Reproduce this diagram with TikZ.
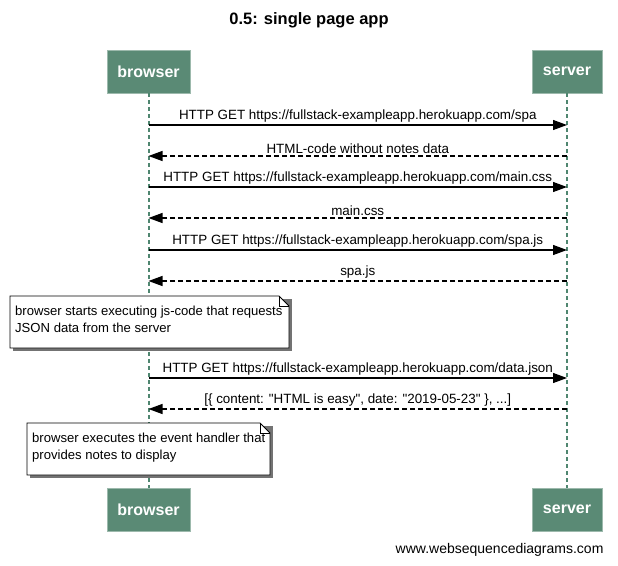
\documentclass[tikz,border=0pt]{standalone}
\usepackage{fontspec}
\setmainfont{Liberation Sans}[Ligatures=TeXOff]
\usetikzlibrary{arrows.meta,positioning,calc}
\definecolor{partc}{HTML}{5A8A75}
\definecolor{lifec}{HTML}{4F8670}

\begin{document}
\begin{tikzpicture}[x=1pt,y=-1pt,
    part/.style={fill=partc,draw=partc!60!white,text=white,font=\fontsize{16}{18}\selectfont\bfseries,minimum height=43pt,inner sep=0pt},
    life/.style={lifec,line width=2pt,dash pattern=on 4pt off 3pt},
    req/.style={line width=1.2pt,-{Triangle[length=14pt,width=10pt]}},
    resp/.style={line width=1.2pt,dash pattern=on 5pt off 3pt,-{Triangle[length=14pt,width=10pt]}},
    msg/.style={font=\fontsize{13.4}{15}\selectfont,above,inner sep=2pt},
    notetext/.style={font=\fontsize{13.1}{17}\selectfont,align=left,anchor=north west,inner sep=0pt}]
    \useasboundingbox (0,0) rectangle (618,565);
    \node[font=\fontsize{16.5}{18}\selectfont\bfseries] (title) at (309,20) {0.5: single page app};
    % participants, top and bottom
    \node[part,minimum width=83pt] (brtop) at (148.5,71.5) {browser};
    \node[part,minimum width=70pt] (svtop) at (567,71.5) {server};
    \node[part,minimum width=83pt] (brbot) at (148.5,509.5) {browser};
    \node[part,minimum width=70pt] (svbot) at (567,509.5) {server};
    \draw[life] (brtop) -- (brbot);
    \draw[life] (svtop) -- (svbot);
    % message rows on the lifelines
    \foreach \i/\y in {1/125,2/156,3/187,4/218,5/250,6/281,7/378,8/409} {
      \coordinate (b\i) at (brtop |- 0,\y);
      \coordinate (s\i) at (svtop |- 0,\y);
    }
    \foreach \i/\lab in {1/{HTTP GET https://fullstack-exampleapp.herokuapp.com/spa},
        3/{HTTP GET https://fullstack-exampleapp.herokuapp.com/main.css},
        5/{HTTP GET https://fullstack-exampleapp.herokuapp.com/spa.js},
        7/{HTTP GET https://fullstack-exampleapp.herokuapp.com/data.json}}
      \draw[req] (b\i) -- node[msg] (m\i) {\lab} (s\i);
    \foreach \i/\lab in {2/{HTML-code without notes data},
        4/{main.css},
        6/{spa.js},
        8/{[\{ content: "HTML is easy", date: "2019-05-23" \}, ...]}}
      \draw[resp] (s\i) -- node[msg] (m\i) {\lab} (b\i);
    % notes
    \foreach \n/\xa/\ya/\xb/\yb/\txt in {1/10/296/289/348/{browser starts executing js-code that requests\\JSON data from the server},
        2/27/423/270/475/{browser executes the event handler that\\provides notes to display}} {
      \fill[black!55] (\xa+2.5,\ya+2.5) rectangle (\xb+2.5,\yb+2.5);
      \draw[fill=white,line width=0.8pt] (\xa,\ya) -- (\xb-10,\ya) -- (\xb,\ya+10) -- (\xb,\yb) -- (\xa,\yb) -- cycle;
      \draw[line width=0.8pt] (\xb-10,\ya) -- (\xb-10,\ya+10) -- (\xb,\ya+10);
      \node[notetext] (note\n) at (\xa+5,\ya+10) {\txt};
    }
    \node[anchor=east,font=\fontsize{14}{16}\selectfont] (credit) at (607,550) {www.websequencediagrams.com};
\end{tikzpicture}
\end{document}
